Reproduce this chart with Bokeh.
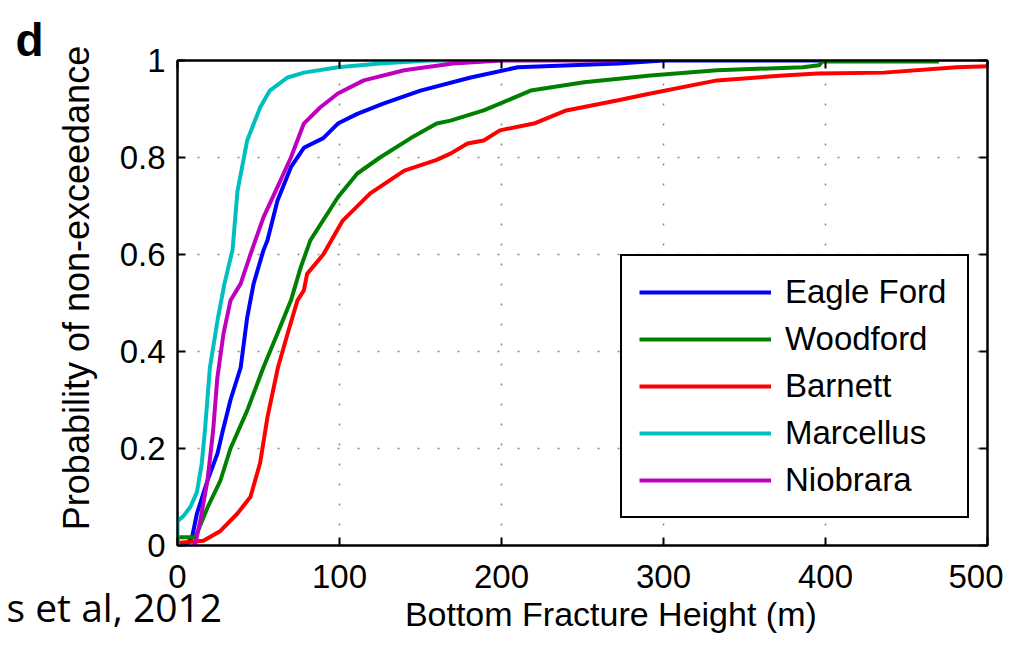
from bokeh.plotting import figure
from bokeh.models import Range1d, LinearAxis, FixedTicker, NumeralTickFormatter, Title
from bokeh.embed import file_html
from bokeh.resources import INLINE

# ---- data ----
eagle_x = [5, 9, 12, 18.5, 24.7, 28, 32.7, 39, 43, 47, 53, 55.5, 61.7, 70, 78, 90, 99, 111, 127, 150, 181, 210, 272, 300, 437]
eagle_y = [0, 0.017, 0.066, 0.134, 0.19, 0.237, 0.3, 0.367, 0.47, 0.54, 0.608, 0.629, 0.711, 0.78, 0.82, 0.84, 0.87, 0.89, 0.911, 0.938, 0.965, 0.986, 0.994, 1.0, 1.0]

wood_x = [0, 0, 11, 18.5, 26.5, 32.7, 43, 53, 61.7, 70, 76, 82, 99, 111, 125, 144, 160, 168.5, 189, 199, 218, 251, 292, 333, 386, 396, 398, 470]
wood_y = [0, 0.017, 0.017, 0.078, 0.134, 0.2, 0.278, 0.367, 0.437, 0.505, 0.573, 0.629, 0.718, 0.767, 0.8, 0.84, 0.87, 0.876, 0.897, 0.911, 0.938, 0.955, 0.969, 0.98, 0.986, 0.99, 0.998, 0.998]

barn_x = [0, 16, 26.5, 37, 45, 51, 55.5, 62, 68, 74, 78, 80, 90, 102, 119, 140, 160, 168.5, 179, 189, 199, 220, 240, 272, 292, 333, 374, 395, 436, 481, 500]
barn_y = [0.005, 0.01, 0.03, 0.066, 0.1, 0.17, 0.264, 0.367, 0.437, 0.505, 0.526, 0.56, 0.6, 0.67, 0.726, 0.773, 0.795, 0.808, 0.829, 0.835, 0.856, 0.87, 0.897, 0.918, 0.932, 0.959, 0.969, 0.973, 0.975, 0.986, 0.988]

marc_x = [0, 0, 4, 8, 12, 15, 17, 20, 25, 29, 34, 37, 43, 51, 57, 68, 78, 99, 125, 155, 200]
marc_y = [0, 0.05, 0.062, 0.08, 0.11, 0.17, 0.24, 0.367, 0.47, 0.54, 0.61, 0.73, 0.835, 0.903, 0.938, 0.965, 0.975, 0.986, 0.994, 1.0, 1.0]

niob_x = [10, 11, 14, 18.5, 22, 24.6, 28.4, 32.7, 39, 45, 53, 63.6, 70, 78, 88, 99, 115, 140, 170, 200, 272]
niob_y = [0, 0.004, 0.05, 0.134, 0.237, 0.346, 0.437, 0.505, 0.54, 0.6, 0.676, 0.753, 0.8, 0.87, 0.903, 0.932, 0.959, 0.98, 0.994, 1.0, 1.0]

series_names = ["Eagle Ford", "Woodford", "Barnett", "Marcellus", "Niobrara"]
series_colors = ["#0000FF", "#008000", "#FF0000", "#00BFBF", "#BF00BF"]
series_x = [eagle_x, wood_x, barn_x, marc_x, niob_x]
series_y = [eagle_y, wood_y, barn_y, marc_y, niob_y]

x_ticks = [0, 100, 200, 300, 400, 500]
y_ticks = [0, 0.2, 0.4, 0.6, 0.8, 1]

x_label = "Bottom Fracture Height  (m)"
y_label = "Probability of non-exceedance"
citation = "s et al, 2012"
panel_tag = "d"

FONT = "Liberation Sans"
NB = "\u00a0"

p = figure(width=1003, height=636, output_backend="svg", toolbar_location=None,
           x_range=Range1d(0, 500), y_range=Range1d(0, 1),
           min_border_left=177, min_border_right=16, min_border_top=60, min_border_bottom=91,
           background_fill_color="white", border_fill_color="white")

for xs, ys, name, col in zip(series_x, series_y, series_names, series_colors):
    p.line(xs, ys, line_color=col, line_width=4, legend_label=name)

# axes styling
for ax in (p.xaxis[0], p.yaxis[0]):
    ax.axis_line_width = 2
    ax.axis_line_color = "black"
    ax.major_tick_in = 8
    ax.major_tick_out = 0
    ax.major_tick_line_width = 2
    ax.minor_tick_line_color = None
    ax.major_label_text_font = FONT
    ax.major_label_text_font_size = "33px"
    ax.major_label_text_color = "black"
    ax.axis_label_text_font = FONT
    ax.axis_label_text_font_style = "normal"
    ax.axis_label_text_color = "black"

p.xaxis[0].ticker = FixedTicker(ticks=x_ticks)
p.yaxis[0].ticker = FixedTicker(ticks=y_ticks)
p.yaxis[0].formatter = NumeralTickFormatter(format="0.[0]")
p.xaxis[0].axis_label = NB * 7 + x_label
p.xaxis[0].axis_label_text_font_size = "34px"
p.xaxis[0].major_label_standoff = 19
p.xaxis[0].axis_label_standoff = 4
p.yaxis[0].axis_label = NB * 3 + y_label
p.yaxis[0].axis_label_text_font_size = "36px"
p.yaxis[0].major_label_standoff = 12
p.yaxis[0].axis_label_standoff = 20

# mirror axes (box with inward ticks)
top = LinearAxis(ticker=FixedTicker(ticks=x_ticks), major_label_text_font_size="0px",
                 axis_line_width=2, major_tick_in=8, major_tick_out=0, major_tick_line_width=2,
                 minor_tick_line_color=None, major_label_text_color=None, major_label_standoff=0)
right = LinearAxis(ticker=FixedTicker(ticks=y_ticks), major_label_text_font_size="0px",
                   axis_line_width=2, major_tick_in=8, major_tick_out=0, major_tick_line_width=2,
                   minor_tick_line_color=None, major_label_text_color=None, major_label_standoff=0)
p.add_layout(top, "above")
p.add_layout(right, "right")

p.outline_line_color = "black"
p.outline_line_width = 2

# grid
for g in (p.xgrid[0], p.ygrid[0]):
    g.grid_line_color = "#8a8a8a"
    g.grid_line_dash = "2 18"
    g.grid_line_width = 1.5
p.xgrid[0].ticker = FixedTicker(ticks=x_ticks)
p.ygrid[0].ticker = FixedTicker(ticks=y_ticks)

# legend
lg = p.legend[0]
lg.location = (443, 27)
lg.label_text_font = FONT
lg.label_text_font_size = "33px"
lg.label_text_color = "black"
lg.glyph_width = 132
lg.glyph_height = 34
lg.label_height = 34
lg.label_width = 165
lg.spacing = 9
lg.padding = 17
lg.label_standoff = 14
lg.border_line_color = "black"
lg.border_line_alpha = 1.0
lg.border_line_width = 2
lg.background_fill_color = "white"
lg.background_fill_alpha = 1.0

# panel tag "d" as the plot title (top-left)
p.title.text = panel_tag
p.title.align = "left"
p.title.offset = -162
p.title.standoff = -10
p.title.text_font = FONT
p.title.text_font_style = "bold"
p.title.text_font_size = "46px"
p.title.text_color = "black"

# citation fragment at the bottom-left, same row as the x-axis title
cite = Title(text=citation, align="left", offset=-171, vertical_align="top",
             standoff=-112, text_font="Open Sans", text_font_style="normal",
             text_font_size="39px", text_color="black")
p.add_layout(cite, "below")

open("out.html", "w").write(file_html(p, INLINE))
